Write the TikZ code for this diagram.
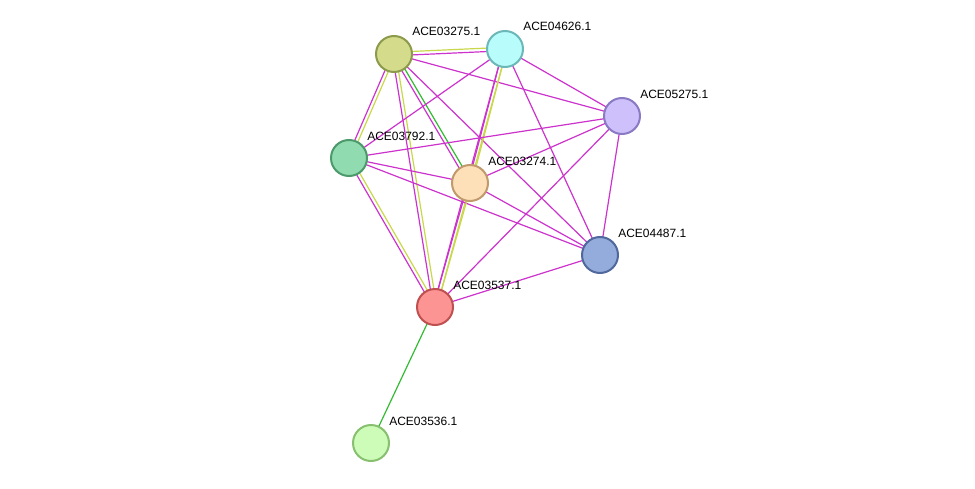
\documentclass[tikz,border=0pt]{standalone}
\usepackage{fontspec}
\setmainfont{Liberation Sans}
\usetikzlibrary{calc}
\definecolor{mag}{HTML}{CC33CC}
\definecolor{yel}{HTML}{C8D84A}
\definecolor{grn}{HTML}{33BB33}
\definecolor{fa}{RGB}{212,220,140}\definecolor{sa}{RGB}{140,154,76}
\definecolor{fb}{RGB}{184,252,252}\definecolor{sb}{RGB}{108,184,184}
\definecolor{fc}{RGB}{205,192,251}\definecolor{sc}{RGB}{138,122,196}
\definecolor{fd}{RGB}{144,220,176}\definecolor{sd}{RGB}{76,154,108}
\definecolor{ff}{RGB}{253,224,184}\definecolor{sf}{RGB}{192,154,108}
\definecolor{fg}{RGB}{148,172,220}\definecolor{sg}{RGB}{80,104,156}
\definecolor{fh}{RGB}{252,148,148}\definecolor{sh}{RGB}{192,80,80}
\definecolor{fi}{RGB}{204,252,184}\definecolor{si}{RGB}{136,192,112}
\tikzset{
 prot/.style={circle,minimum size=27pt,inner sep=0,line width=1.5pt},
 lab/.style={anchor=base west,font=\fontsize{9}{10}\selectfont,inner sep=0},
 e/.style={line width=0.9pt}
}
\newcommand{\pe}[3]{\draw[e,#3] ($(#1)!1.3pt!90:(#2)$) -- ($(#2)!1.3pt!-90:(#1)$);}
\newcommand{\me}[3]{\draw[e,#3] ($(#1)!1.3pt!-90:(#2)$) -- ($(#2)!1.3pt!90:(#1)$);}
\begin{document}
\begin{tikzpicture}[x=0.75pt,y=-0.75pt]
\useasboundingbox (0,0) rectangle (975,489);
\coordinate (a) at (394,54);
\coordinate (b) at (505,49);
\coordinate (c) at (622,116);
\coordinate (d) at (349,158);
\coordinate (f) at (470,183);
\coordinate (g) at (600,255);
\coordinate (h) at (435,307);
\coordinate (i) at (371,443);
% edges
\pe{a}{b}{yel}\me{a}{b}{mag}
\draw[e,mag] (a)--(c);
\pe{a}{d}{yel}\me{a}{d}{mag}
\pe{a}{f}{grn}\me{a}{f}{mag}
\draw[e,mag] (a)--(g);
\pe{a}{h}{yel}\me{a}{h}{mag}
\draw[e,mag] (b)--(d);
\pe{b}{f}{yel}\me{b}{f}{mag}
\pe{b}{h}{yel}\me{b}{h}{mag}
\draw[e,mag] (b)--(c);
\draw[e,mag] (b)--(g);
\draw[e,mag] (c)--(d);
\draw[e,mag] (c)--(f);
\draw[e,mag] (c)--(g);
\draw[e,mag] (c)--(h);
\draw[e,mag] (d)--(f);
\draw[e,mag] (d)--(g);
\pe{d}{h}{yel}\me{d}{h}{mag}
\draw[e,mag] (f)--(g);
\pe{f}{h}{yel}\me{f}{h}{mag}
\draw[e,mag] (g)--(h);
\draw[e,grn] (h)--(i);
% nodes
\node[prot,fill=fa,draw=sa] (na) at (a) {};
\node[prot,fill=fb,draw=sb] (nb) at (b) {};
\node[prot,fill=fc,draw=sc] (nc) at (c) {};
\node[prot,fill=fd,draw=sd] (nd) at (d) {};
\node[prot,fill=ff,draw=sf] (nf) at (f) {};
\node[prot,fill=fg,draw=sg] (ng) at (g) {};
\node[prot,fill=fh,draw=sh] (nh) at (h) {};
\node[prot,fill=fi,draw=si] (ni) at (i) {};
% labels
\node[lab] (la) at (412,36) {ACE03275.1};
\node[lab] (lb) at (523,31) {ACE04626.1};
\node[lab] (lc) at (640,98) {ACE05275.1};
\node[lab] (ld) at (367,140) {ACE03792.1};
\node[lab] (lf) at (488,165) {ACE03274.1};
\node[lab] (lg) at (618,237) {ACE04487.1};
\node[lab] (lh) at (453,289) {ACE03537.1};
\node[lab] (li) at (389,425) {ACE03536.1};
\end{tikzpicture}
\end{document}
